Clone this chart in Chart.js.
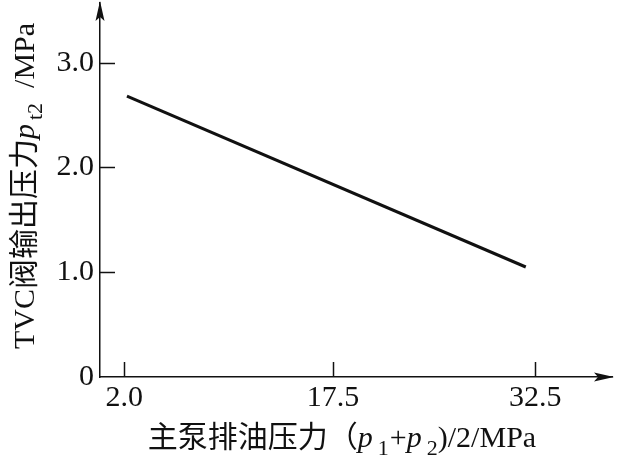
<!DOCTYPE html>
<html>
<head>
<meta charset="utf-8">
<script src="https://cdn.jsdelivr.net/npm/chart.js@4/dist/chart.umd.min.js"></script>
<style>
  html, body { margin: 0; padding: 0; background: #fff; }
  canvas { display: block; }
</style>
</head>
<body>
<canvas id="chart" width="630" height="476"></canvas>
<script>
// データ
const xTicks = [2.0, 17.5, 32.5];
const yTicks = [0, 1.0, 2.0, 3.0];
const pumpPressure = [2.2, 31.8];   // 主泵排油压力 (p1+p2)/2
const tvcPressure = [2.68, 1.05];   // TVC阀输出压力 pt2

// 軸タイトル（斜体・下付き文字を含む）
const xTitle = [
  { t: '主泵排油压力（' },
  { t: 'p', i: true },
  { t: '1', sub: true, gap: 5 },
  { t: '+', gap: 1 },
  { t: 'p', i: true },
  { t: '2', sub: true, gap: 5 },
  { t: ')/2/MPa' }
];
const yTitle = [
  { t: 'TVC阀输出压力' },
  { t: 'p', i: true },
  { t: 't2', sub: true, gap: 4 },
  { t: '  /MPa' }
];

const FONT = '"Liberation Serif", "Noto Sans CJK SC", serif';
const INK = '#111';

function segFont(s) {
  return (s.i ? 'italic ' : '') + (s.sub ? '22px ' : '30px ') + FONT;
}

function drawRich(ctx, segs, cx, baseY) {
  let w = 0;
  segs.forEach((s) => { ctx.font = segFont(s); w += (s.gap || 0) + ctx.measureText(s.t).width; });
  let x = cx - w / 2;
  segs.forEach((s) => {
    ctx.font = segFont(s);
    x += s.gap || 0;
    ctx.fillText(s.t, x, baseY + (s.sub ? 8 : 0));
    x += ctx.measureText(s.t).width;
  });
}

// 内向きの目盛り・矢印・軸タイトル
const decorPlugin = {
  id: 'decor',
  afterDraw(chart) {
    const { ctx, chartArea: a, scales: { x, y } } = chart;
    ctx.save();
    ctx.strokeStyle = INK;
    ctx.fillStyle = INK;
    ctx.lineWidth = 1.5;
    xTicks.forEach((v) => {
      const px = Math.round(x.getPixelForValue(v)) + 0.5;
      ctx.beginPath(); ctx.moveTo(px, a.bottom); ctx.lineTo(px, a.bottom - 15); ctx.stroke();
    });
    yTicks.filter((v) => v > 0).forEach((v) => {
      const py = Math.round(y.getPixelForValue(v)) + 0.5;
      ctx.beginPath(); ctx.moveTo(a.left, py); ctx.lineTo(a.left + 15, py); ctx.stroke();
    });
    // 矢印
    ctx.beginPath();
    ctx.moveTo(a.right + 2, a.bottom);
    ctx.lineTo(a.right - 18, a.bottom - 4.5);
    ctx.lineTo(a.right - 14, a.bottom);
    ctx.lineTo(a.right - 18, a.bottom + 4.5);
    ctx.closePath(); ctx.fill();
    ctx.beginPath();
    ctx.moveTo(a.left, a.top - 2);
    ctx.lineTo(a.left - 4.5, a.top + 18);
    ctx.lineTo(a.left, a.top + 14);
    ctx.lineTo(a.left + 4.5, a.top + 18);
    ctx.closePath(); ctx.fill();
    // 軸タイトル
    ctx.textBaseline = 'alphabetic';
    ctx.textAlign = 'left';
    drawRich(ctx, xTitle, 342, 447);
    ctx.translate(34, 186);
    ctx.rotate(-Math.PI / 2);
    drawRich(ctx, yTitle, 0, 0);
    ctx.restore();
  }
};

const ctx = document.getElementById('chart').getContext('2d');
new Chart(ctx, {
  type: 'line',
  data: {
    datasets: [{
      data: pumpPressure.map((v, i) => ({ x: v, y: tvcPressure[i] })),
      borderColor: INK,
      borderWidth: 3,
      pointRadius: 0,
      fill: false,
      tension: 0
    }]
  },
  options: {
    responsive: false,
    animation: false,
    layout: { padding: { top: 3, right: 18, left: 0, bottom: 0 } },
    plugins: { legend: { display: false }, tooltip: { enabled: false } },
    scales: {
      x: {
        type: 'linear',
        min: 0.2,
        max: 38.2,
        afterBuildTicks: (s) => { s.ticks = xTicks.map((v) => ({ value: v })); },
        afterFit: (s) => { s.height = 99; s.paddingLeft = 0; s.paddingRight = 0; },
        grid: { display: false, drawTicks: false },
        border: { display: true, color: INK, width: 1.5 },
        ticks: {
          padding: 3,
          color: INK,
          font: { family: FONT, size: 30 },
          maxRotation: 0,
          autoSkip: false,
          callback: (v) => Number(v).toFixed(1)
        }
      },
      y: {
        min: 0,
        max: 3.57,
        afterBuildTicks: (s) => { s.ticks = yTicks.map((v) => ({ value: v })); },
        afterFit: (s) => { s.width = 100; s.paddingTop = 0; s.paddingBottom = 0; },
        grid: { display: false, drawTicks: false },
        border: { display: true, color: INK, width: 1.5 },
        ticks: {
          padding: 6,
          color: INK,
          font: { family: FONT, size: 30 },
          autoSkip: false,
          callback: (v) => (v === 0 ? '0' : Number(v).toFixed(1))
        }
      }
    }
  },
  plugins: [decorPlugin]
});
</script>
</body>
</html>
